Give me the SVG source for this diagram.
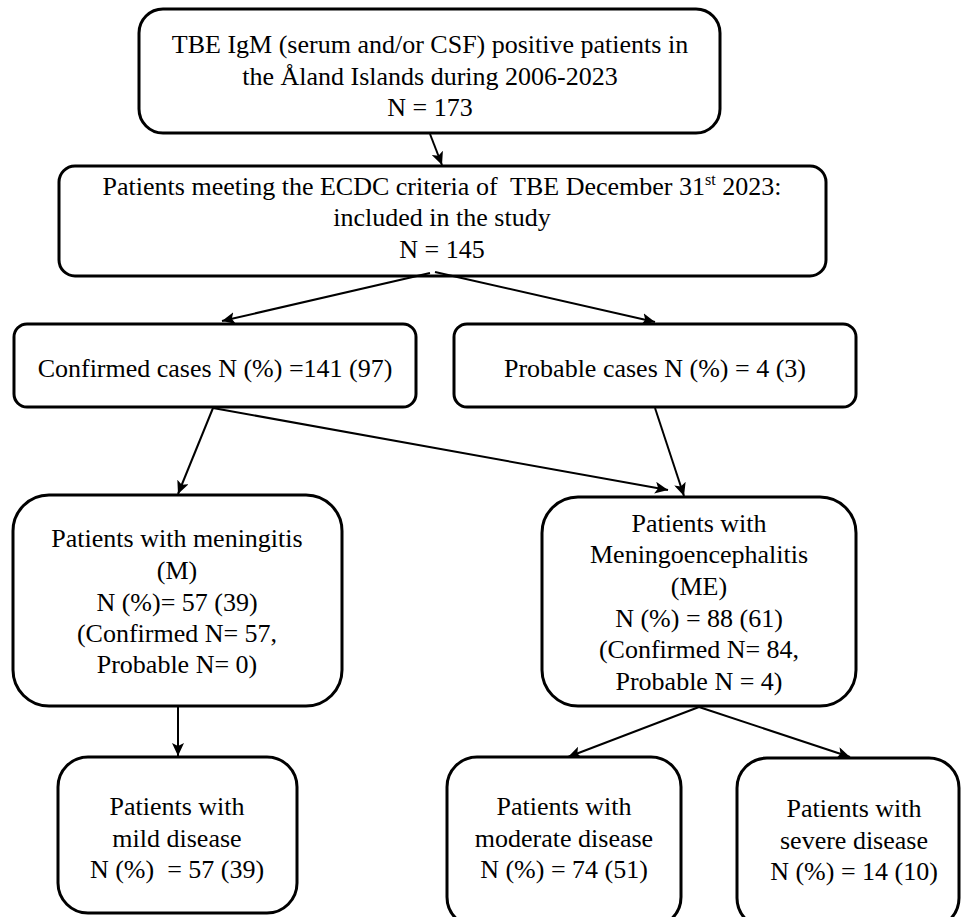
<svg xmlns="http://www.w3.org/2000/svg" width="963" height="917" viewBox="0 0 963 917">
<style>
.box{fill:#fff;stroke:#000;stroke-width:3}
.t{font-size:26px;fill:#000;text-anchor:middle;white-space:pre}
.c{stroke:#000;stroke-width:2;fill:none;marker-end:url(#ah)}
</style>
<defs>
<marker id="ah" markerUnits="userSpaceOnUse" markerWidth="14" markerHeight="12" refX="13" refY="6" orient="auto">
<path d="M0,0 L13,6 L0,12 L3,6 Z" fill="#000"/>
</marker>
</defs>
<rect width="963" height="917" fill="#fff"/>
<g font-family="Liberation Serif, 'Times New Roman', serif">
<g id="n1">
<rect class="box" x="139" y="9" width="581" height="124" rx="24"/>
<text class="t" x="430" y="53">TBE IgM (serum and/or CSF) positive patients in</text>
<text class="t" x="430" y="85">the Åland Islands during 2006-2023</text>
<text class="t" x="430" y="116">N = 173</text>
</g>
<g id="n2">
<rect class="box" x="59" y="166" width="767" height="110" rx="16"/>
<text class="t" x="442" y="195" xml:space="preserve">Patients meeting the ECDC criteria of  TBE December 31<tspan font-size="16" dy="-10">st</tspan><tspan dy="10"> 2023:</tspan></text>
<text class="t" x="442" y="226">included in the study</text>
<text class="t" x="442" y="258">N = 145</text>
</g>
<g id="n3">
<rect class="box" x="14" y="324" width="402" height="83" rx="13"/>
<text class="t" x="215" y="377">Confirmed cases N (%) =141 (97)</text>
</g>
<g id="n4">
<rect class="box" x="454" y="324" width="402" height="83" rx="13"/>
<text class="t" x="655" y="377">Probable cases N (%) = 4 (3)</text>
</g>
<g id="n5">
<rect class="box" x="13" y="495" width="329" height="211" rx="36"/>
<text class="t" x="177" y="547">Patients with meningitis</text>
<text class="t" x="177" y="579">(M)</text>
<text class="t" x="177" y="611">N (%)= 57 (39)</text>
<text class="t" x="177" y="642">(Confirmed N= 57,</text>
<text class="t" x="177" y="673">Probable N= 0)</text>
</g>
<g id="n6">
<rect class="box" x="542" y="497" width="314" height="209" rx="36"/>
<text class="t" x="699" y="532">Patients with</text>
<text class="t" x="699" y="563">Meningoencephalitis</text>
<text class="t" x="699" y="595">(ME)</text>
<text class="t" x="699" y="627">N (%) = 88 (61)</text>
<text class="t" x="699" y="658">(Confirmed N= 84,</text>
<text class="t" x="699" y="690">Probable N = 4)</text>
</g>
<g id="n7">
<rect class="box" x="58" y="757" width="239" height="156" rx="30"/>
<text class="t" x="177" y="815">Patients with</text>
<text class="t" x="177" y="847">mild disease</text>
<text class="t" x="177" y="878" xml:space="preserve">N (%)  = 57 (39)</text>
</g>
<g id="n8">
<rect class="box" x="447" y="757" width="234" height="170" rx="30"/>
<text class="t" x="564" y="815">Patients with</text>
<text class="t" x="564" y="847">moderate disease</text>
<text class="t" x="564" y="878">N (%) = 74 (51)</text>
</g>
<g id="n9">
<rect class="box" x="737" y="758" width="222" height="170" rx="30"/>
<text class="t" x="854" y="817">Patients with</text>
<text class="t" x="854" y="849">severe disease</text>
<text class="t" x="854" y="880">N (%) = 14 (10)</text>
</g>
</g>
<g id="connectors">
<line class="c" x1="430" y1="134" x2="442" y2="165"/>
<line class="c" x1="430" y1="273" x2="222" y2="321"/>
<line class="c" x1="435" y1="272" x2="655" y2="322"/>
<line class="c" x1="213" y1="408" x2="178" y2="494"/>
<line class="c" x1="213" y1="408" x2="668" y2="490"/>
<line class="c" x1="655" y1="408" x2="684" y2="496"/>
<line class="c" x1="178" y1="707" x2="178" y2="756"/>
<line class="c" x1="699" y1="707" x2="568" y2="757"/>
<line class="c" x1="699" y1="707" x2="850" y2="757"/>
</g>
</svg>
